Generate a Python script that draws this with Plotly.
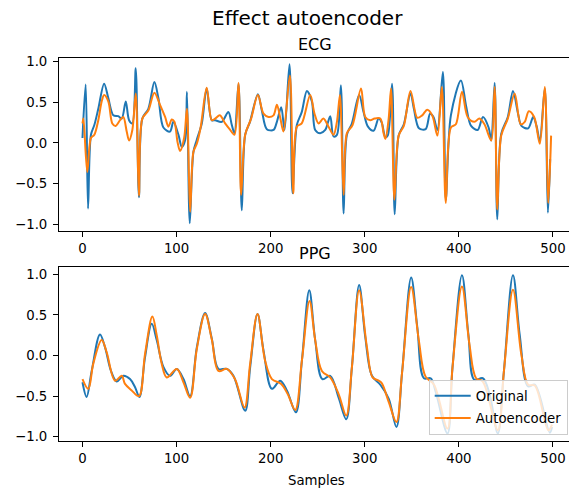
import plotly.graph_objects as go

# ---------------- data ----------------
ecg_orig_x = [0, 3.4, 5.9, 9, 12.6, 16.8, 23, 27.5, 32.8, 38, 41.7, 46, 49.5, 53, 56.6, 60, 63.6, 70, 76.4, 80.7,
              86, 93, 96.6, 102, 105.5, 109, 111, 114, 117.9, 121.5, 126.8, 132, 137.4, 141, 148, 155, 158.7, 161.5,
              165.8, 169.3, 172.9, 178, 186.4, 190.6, 195.9, 203, 206.6, 211.2, 214.7, 220, 223.2, 227.8, 233,
              238.5, 243.8, 247.3, 252.6, 258, 263.3, 266.8, 270.4, 274.6, 277.5, 281, 286.3, 294, 298.7, 303.4,
              309.4, 314.7, 318, 321.9, 324.4, 329, 331.8, 336, 341.5, 348.6, 352.2, 357.6, 364.7, 369.4, 373,
              377.2, 383, 386.1, 391.5, 402.2, 407.6, 413, 420, 425.6, 431.6, 434.4, 438, 440.8, 445, 452, 457.5,
              462.9, 466.5, 473.6, 479, 482.5, 486, 491.3, 494.6, 497]
ecg_orig_y = [0.06, 0.72, -0.81, 0.10, 0.22, 0.42, 0.73, 0.55, 0.34, 0.33, 0.30, 0.51, 0.28, 0.24, 0.92, -0.67, 0.30,
              0.42, 0.75, 0.55, 0.19, 0.14, 0.26, 0.10, -0.05, 0.03, 0.63, -0.99, -0.11, 0.04, 0.24, 0.67, 0.28,
              0.28, 0.26, 0.38, 0.22, 0.12, 0.73, -0.83, 0.10, 0.26, 0.60, 0.40, 0.17, 0.16, 0.26, 0.44, 0.16,
              0.97, -0.62, 0.22, 0.38, 0.64, 0.51, 0.16, 0.12, 0.16, 0.33, 0.08, 0.10, 0.71, -0.87, 0.10, 0.24,
              0.59, 0.38, 0.20, 0.15, 0.30, 0.25, 0.07, 0.09, 0.73, -0.88, 0.09, 0.23, 0.61, 0.42, 0.18, 0.17,
              0.36, 0.32, 0.16, 0.875, -0.70, 0.34, 0.77, 0.46, 0.21, 0.16, 0.32, 0.19, 0.03, 0.74, -0.94, 0.11,
              0.32, 0.64, 0.36, 0.21, 0.18, 0.32, 0.21, 0.03, 0.67, -0.86, -0.2]

ecg_auto_x = [0, 1, 5.1, 9, 12.6, 16.8, 20.4, 23, 27.5, 31.7, 35.3, 39.9, 43.4, 47, 49.5, 53, 56.6, 60, 63.6, 70,
              76.4, 82.4, 87.8, 91.3, 94.9, 97.7, 101, 103.7, 108, 111, 114.4, 117.9, 121.5, 125.7, 132, 137.4, 141,
              146, 151.6, 157, 161.5, 165.8, 168.6, 172.9, 179.2, 186.4, 192.4, 197.7, 203, 206.6, 210, 213.6,
              220.4, 224, 227.8, 233, 242, 246.6, 250.9, 256, 261.5, 266.8, 270.4, 273.6, 277.5, 281, 287, 296,
              300.5, 305.8, 310.4, 316.5, 320, 321.9, 325.4, 327.9, 331.5, 336, 341.5, 348.6, 355.8, 361, 366.4,
              371.7, 377.2, 381.9, 386.1, 391.5, 396.8, 403.3, 409.3, 416.5, 421.8, 427.2, 434.4, 438, 440.8, 445,
              452, 459.3, 465.7, 470, 474.3, 480, 486, 491.3, 494.9, 498]
ecg_auto_y = [0.24, 0.30, -0.36, 0.06, 0.10, 0.28, 0.51, 0.59, 0.51, 0.24, 0.21, 0.28, 0.32, 0.14, 0.03, 0.16, 0.61,
              -0.65, 0.30, 0.40, 0.62, 0.47, 0.32, 0.20, 0.29, 0.26, 0.01, -0.10, 0.06, 0.42, -0.85, -0.11, -0.01,
              0.20, 0.68, 0.28, 0.30, 0.34, 0.24, 0.16, 0.10, 0.74, -0.64, 0.10, 0.30, 0.59, 0.36, 0.32, 0.34,
              0.47, 0.32, 0.14, 0.83, -0.62, 0.20, 0.24, 0.59, 0.36, 0.24, 0.30, 0.20, 0.10, 0.26, 0.59, -0.64,
              0.12, 0.22, 0.67, 0.32, 0.28, 0.30, 0.30, 0.12, 0.05, 0.30, 0.67, -0.70, 0.09, 0.21, 0.64, 0.31,
              0.34, 0.41, 0.34, 0.09, 0.69, -0.74, 0.19, 0.23, 0.63, 0.32, 0.26, 0.30, 0.23, 0.03, 0.69, -0.82,
              0.09, 0.30, 0.61, 0.23, 0.26, 0.39, 0.32, -0.01, 0.69, -0.74, 0.09]

ppg_orig_x = [0, 4.4, 9.8, 18.6, 24, 30.3, 36.3, 43.4, 50.5, 55.9, 60.5, 66.5, 73.6, 78.9, 86, 93, 100.2, 107.3,
              114.4, 121.5, 130.3, 137.4, 144.5, 153.4, 160.4, 172.9, 178.2, 186, 192.4, 201.3, 210.1, 217.2,
              226.8, 233.2, 241, 247.3, 255, 263.3, 272.2, 280.3, 286.3, 294, 300.5, 307.6, 316.5, 325.4, 333.6,
              339.7, 349.3, 355.8, 362.9, 370, 375.4, 387.9, 393.2, 403.3, 410.1, 416.5, 425.4, 432.5, 441.4,
              447.8, 457.5, 464.6, 473.6, 480.7, 496.6, 499]
ppg_orig_y = [-0.33, -0.51, -0.19, 0.26, 0.10, -0.19, -0.32, -0.25, -0.29, -0.39, -0.51, -0.02, 0.39, 0.19, -0.14,
              -0.25, -0.165, -0.29, -0.50, 0.10, 0.525, 0.21, -0.165, -0.165, -0.25, -0.68, -0.145, 0.51, 0.06,
              -0.41, -0.31, -0.43, -0.70, -0.06, 0.805, 0.19, -0.29, -0.25, -0.52, -0.785, -0.145, 0.87, 0.23,
              -0.25, -0.36, -0.53, -0.88, -0.20, 0.96, 0.35, -0.28, -0.28, -0.45, -0.96, -0.15, 0.99, 0.26, -0.30,
              -0.28, -0.47, -0.96, -0.20, 0.99, 0.26, -0.38, -0.36, -0.95, -0.88]

ppg_auto_x = [0, 6.2, 11.5, 20.4, 25.7, 34.6, 41.7, 45.2, 52.3, 60, 66.5, 74.3, 78.9, 84.2, 89.5, 100.2, 107.3,
              114.4, 121.5, 130.3, 137.4, 144.5, 153.4, 162, 172.2, 178.2, 186, 194, 201.3, 211.2, 218.1, 226.1,
              233.2, 241.3, 247.3, 254.4, 263.3, 272.2, 280.3, 286.3, 294, 302.3, 308.3, 314.7, 318, 325.4, 333.6,
              339.7, 349.3, 357.5, 364.6, 373.6, 387.9, 393.2, 403.3, 411.2, 418.3, 425.4, 441.4, 447.8, 457.5,
              466.4, 473.6, 480.7, 495, 499]
ppg_auto_y = [-0.29, -0.41, -0.10, 0.19, 0.04, -0.31, -0.25, -0.35, -0.43, -0.50, 0.02, 0.48, 0.25, -0.10, -0.27,
              -0.165, -0.33, -0.52, 0.08, 0.51, 0.20, -0.19, -0.165, -0.29, -0.64, -0.10, 0.51, -0.06, -0.29,
              -0.35, -0.475, -0.67, -0.06, 0.67, 0.19, -0.19, -0.27, -0.475, -0.74, -0.145, 0.805, 0.10, -0.27,
              -0.31, -0.34, -0.57, -0.82, -0.20, 0.845, 0.18, -0.26, -0.36, -0.90, -0.15, 0.85, 0.14, -0.28,
              -0.32, -0.92, -0.20, 0.81, 0.01, -0.36, -0.37, -0.92, -0.85]

x_tick_vals = [0, 100, 200, 300, 400, 500]
x_tick_text = ["0", "100", "200", "300", "400", "500"]
y_tick_vals = [-1.0, -0.5, 0.0, 0.5, 1.0]
y_tick_text = ["\u22121.0", "\u22120.5", "0.0", "0.5", "1.0"]

series_names = ["Original", "Autoencoder"]
colors = ["#1f77b4", "#ff7f0e"]

# ---------------- figure ----------------
FONT = "DejaVu Sans"
fig = go.Figure()

fig.add_trace(go.Scatter(x=ecg_orig_x, y=ecg_orig_y, mode="lines", name=series_names[0],
                         line=dict(color=colors[0], width=2, shape="spline", smoothing=0.9),
                         xaxis="x", yaxis="y", showlegend=False))
fig.add_trace(go.Scatter(x=ecg_auto_x, y=ecg_auto_y, mode="lines", name=series_names[1],
                         line=dict(color=colors[1], width=2, shape="spline", smoothing=0.9),
                         xaxis="x", yaxis="y", showlegend=False))
fig.add_trace(go.Scatter(x=ppg_orig_x, y=ppg_orig_y, mode="lines", name=series_names[0], legendgroup="o",
                         line=dict(color=colors[0], width=2, shape="spline", smoothing=1.0),
                         xaxis="x2", yaxis="y2"))
fig.add_trace(go.Scatter(x=ppg_auto_x, y=ppg_auto_y, mode="lines", name=series_names[1], legendgroup="a",
                         line=dict(color=colors[1], width=2, shape="spline", smoothing=1.0),
                         xaxis="x2", yaxis="y2"))

W, H = 569, 489
PLOT_L, PLOT_T, PLOT_B, PLOT_R = 59, 58, 441, 569   # pixel coordinates of the plotting area
L, T, B, R = PLOT_L, PLOT_T, H - PLOT_B, W - PLOT_R
pw, ph = PLOT_R - PLOT_L, PLOT_B - PLOT_T
xr = [-24.95, -24.95 + pw / 0.941]

axis_common = dict(showgrid=False, zeroline=False, ticks="outside", ticklen=5, tickwidth=1,
                   tickcolor="black", linecolor="black", linewidth=1, showline=True,
                   tickfont=dict(family=FONT, size=13.3, color="black"))

def px_x(p):
    return (p - PLOT_L) / pw

def px_y(p):
    return (PLOT_B - p) / ph

fig.update_layout(
    width=W, height=H, margin=dict(l=L, r=R, t=T, b=B, autoexpand=False),
    paper_bgcolor="white", plot_bgcolor="white",
    font=dict(family=FONT, color="black"),
    xaxis=dict(domain=[0, 1], anchor="y", range=xr, tickvals=x_tick_vals, ticktext=x_tick_text,
               mirror=True, **axis_common),
    yaxis=dict(domain=[px_y(231), 1], anchor="x", range=[-1.086, 1.047],
               tickvals=y_tick_vals, ticktext=y_tick_text, mirror=False, ticklabelstandoff=3, **axis_common),
    xaxis2=dict(domain=[0, 1], anchor="y2", range=xr, tickvals=x_tick_vals, ticktext=x_tick_text,
                mirror=True, **axis_common),
    yaxis2=dict(domain=[0, px_y(266.7)], anchor="x2", range=[-1.053, 1.094],
                tickvals=y_tick_vals, ticktext=y_tick_text, mirror=False, ticklabelstandoff=3, **axis_common),
    legend=dict(x=px_x(567.7), xanchor="right", y=px_y(434.5), yanchor="bottom",
                bgcolor="rgba(255,255,255,0.8)", bordercolor="#cccccc", borderwidth=1,
                font=dict(family=FONT, size=13.3, color="black"), itemwidth=36, tracegroupgap=2),
    showlegend=True,
)

fig.add_annotation(text="Effect autoencoder", x=px_x(307.8), y=px_y(18.2), xref="paper", yref="paper",
                   showarrow=False, xanchor="center", yanchor="middle", font=dict(family=FONT, size=20))
fig.add_annotation(text="ECG", x=px_x(315), y=px_y(44.4), xref="paper", yref="paper",
                   showarrow=False, xanchor="center", yanchor="middle", font=dict(family=FONT, size=16))
fig.add_annotation(text="PPG", x=px_x(315), y=px_y(253), xref="paper", yref="paper",
                   showarrow=False, xanchor="center", yanchor="middle", font=dict(family=FONT, size=16))
fig.add_annotation(text="Samples", x=px_x(316), y=px_y(480), xref="paper", yref="paper",
                   showarrow=False, xanchor="center", yanchor="middle", font=dict(family=FONT, size=13.3))

fig.write_html("out.html",
               config={"displayModeBar": False},
               post_script="document.body.style.margin='0';document.body.style.padding='0';"
                           "document.body.style.overflow='hidden';"
                           "document.documentElement.style.overflow='hidden';")
